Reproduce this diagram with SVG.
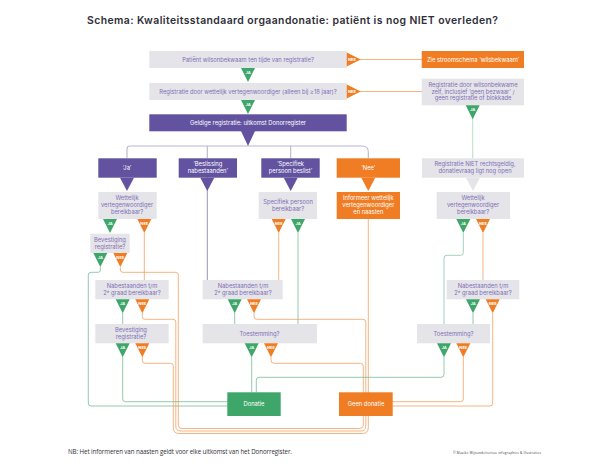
<svg xmlns="http://www.w3.org/2000/svg" width="612" height="474" viewBox="0 0 612 474">
<defs>
<polygon id="t-ja" points="-7,0 7,0 0,14" fill="#3fa66a"/>
<polygon id="t-nee" points="-7,0 7,0 0,14" fill="#f07d23"/>
</defs>
<style>
text{font-family:"Inter","Noto Sans","DejaVu Sans",sans-serif}
.g{fill:#e5e4e9}.p{fill:#62529f}.o{fill:#f07d23}.gr{fill:#3fa66a}
.tp{fill:#7f6fb5;font-size:5.8px;text-anchor:middle}
.tw{fill:#fff;font-size:5.8px;text-anchor:middle}
.lb{fill:#fff;font-size:4px;font-weight:700;text-anchor:middle}
.c{fill:none;stroke-width:.8}
.co{stroke:#f3a163}.cg{stroke:#79bb97}.cp{stroke:#807a9e}
</style>
<rect width="612" height="474" fill="#fff"/>
<text x="87" y="24" font-size="10.4" font-weight="600" fill="#2e2e38" textLength="411">Schema: Kwaliteitsstandaard orgaandonatie: patiënt is nog NIET overleden?</text>
<g id="connectors">
<path class="c co" d="M346 59.5H422M346 91.5H422"/>
<path class="c" style="stroke:#b9b6ce;stroke-width:1.1" d="M127 158V149Q127 146 130 146H362Q368.3 146 368.3 152V158M207.3 146V158M290.7 146V158"/>
<path class="c" style="stroke:#a5d6ba" d="M472.7 105V158"/>
<path class="c cp" d="M207.3 177V280"/>
<path class="c co" d="M144.3 233V280M278.7 233V280M483 233V280"/>
<path class="c cg" d="M100.3 267V270Q100.3 272.3 98 272.3H91Q88.3 272.3 88.3 275V403Q88.3 406 91 406H228"/>
<path class="c co" d="M120.3 267V270Q120.3 272.3 123 272.3H175.5Q178.3 272.3 178.3 275V425Q178.3 428.5 182 428.5H359.5Q363.3 428.5 363.3 425V366Q363.3 363.3 360.5 363.3H274Q271 363.3 271 360V357"/>
<path class="c co" d="M142.3 313V316.5Q142.3 319.3 145 319.3H173Q175.8 319.3 175.8 322V426Q175.8 431 180.5 431H361Q365.8 431 365.8 426V322Q365.8 319.3 363 319.3H257Q254 319.3 254 316.5V313"/>
<path class="c co" d="M142.3 357V360.5Q142.3 363.3 145 363.3H170.5Q173.3 363.3 173.3 366V427.5Q173.3 433.5 179 433.5H362.5Q368.3 433.5 368.3 427.5V219"/>
<path class="c cg" d="M122.7 313V324M234.7 313V324M473 313V324"/>
<path class="c cg" d="M122.7 357V399Q122.7 401.7 125.5 401.7H228"/>
<path class="c cg" d="M298 233V324M251.7 357V392.3"/>
<path class="c cg" d="M256.3 392.3V380Q256.3 377.3 259 377.3H441Q444 377.3 444 374.5V357"/>
<path class="c" style="stroke:#8cc7a6" d="M463.3 233V252.5Q463.3 255.3 460.5 255.3H447Q444 255.3 444 258V324"/>
<path class="c co" d="M463.3 357V399Q463.3 401.7 460.5 401.7H392"/>
<path class="c co" d="M492.7 313V403.3Q492.7 406 490 406H392"/>
</g>
<g id="n1"><rect class="g" x="149.3" y="51" width="197.4" height="17"/><text class="tp" x="248" y="61.5">Patiënt wilsonbekwaam ten tijde van registratie?</text>
<use href="#t-nee" transform="translate(346.7 59.5) rotate(-90)"/><text class="lb" x="352" y="61">NEE</text>
<use href="#t-ja" x="248" y="68"/><text class="lb" x="248" y="73.5">JA</text></g>
<g id="n2"><rect class="g" x="149.3" y="83" width="197.4" height="17"/><text class="tp" x="248" y="93.5">Registratie door wettelijk vertegenwoordiger (alleen bij ≥18 jaar)?</text>
<use href="#t-nee" transform="translate(346.7 91.5) rotate(-90)"/><text class="lb" x="352" y="93">NEE</text>
<use href="#t-ja" x="248" y="100"/><text class="lb" x="248" y="105.5">JA</text></g>
<g id="n3"><rect class="p" x="149.3" y="114.3" width="197.4" height="17"/><polygon class="p" points="241,131 255,131 248,146"/><text class="tw" x="248" y="124.8">Geldige registratie: uitkomst Donorregister</text></g>
<g id="n4"><rect class="o" x="421.7" y="51" width="102.3" height="17"/><text class="tw" x="473" y="61.5">Zie stroomschema ‘wilsbekwaam’</text></g>
<g id="n5"><rect class="g" x="421.7" y="78.7" width="102.3" height="26.6"/><text class="tp" x="473" y="86.5">Registratie door wilsonbekwame</text><text class="tp" x="473" y="93.5">zelf, inclusief ‘geen bezwaar’ /</text><text class="tp" x="473" y="100.3">geen registratie of blokkade</text>
<use href="#t-ja" x="472.7" y="105.3"/><text class="lb" x="472.7" y="110.8">JA</text></g>
<g id="n6"><rect class="p" x="98.3" y="158.3" width="58.4" height="19.4"/><polygon class="p" points="120,177.7 134,177.7 127,191"/><text class="tw" x="127" y="169.8">‘Ja’</text></g>
<g id="n7"><rect class="p" x="178.7" y="158.3" width="58.3" height="19.4"/><polygon class="p" points="200.3,177.7 214.3,177.7 207.3,191"/><text class="tw" x="207.8" y="166.3">‘Beslissing</text><text class="tw" x="207.8" y="173.3">nabestaanden’</text></g>
<g id="n8"><rect class="p" x="261.3" y="158.3" width="58.4" height="19.4"/><polygon class="p" points="283.7,177.7 297.7,177.7 290.7,191"/><text class="tw" x="290.5" y="166.3">‘Specifiek</text><text class="tw" x="290.5" y="173.3">persoon beslist’</text></g>
<g id="n9"><rect class="o" x="336.7" y="158.3" width="63.3" height="19.4"/><polygon class="o" points="361.3,177.7 375.3,177.7 368.3,191"/><text class="tw" x="368.3" y="169.8">‘Nee’</text></g>
<g id="n10"><rect class="g" x="422" y="158.3" width="102" height="19.4"/><polygon class="g" points="466,177.7 480,177.7 473,191"/><text class="tp" x="475" y="166.3">Registratie NIET rechtsgeldig,</text><text class="tp" x="475" y="173.3">donatievraag ligt nog open</text></g>
<g id="n11"><rect class="g" x="98.3" y="192" width="58.4" height="27"/><text class="tp" x="127" y="200">Wettelijk</text><text class="tp" x="127" y="207">vertegenwoordiger</text><text class="tp" x="127" y="214">bereikbaar?</text>
<use href="#t-ja" x="110" y="219"/><text class="lb" x="110" y="224.5">JA</text><use href="#t-nee" x="144.3" y="219"/><text class="lb" x="144.3" y="224.5">NEE</text></g>
<g id="n12"><rect class="g" x="258.7" y="192" width="58.3" height="27"/><text class="tp" x="288" y="203.5">Specifiek persoon</text><text class="tp" x="288" y="210.5">bereikbaar?</text>
<use href="#t-nee" x="278.7" y="219"/><text class="lb" x="278.7" y="224.5">NEE</text><use href="#t-ja" x="298" y="219"/><text class="lb" x="298" y="224.5">JA</text></g>
<g id="n13"><rect class="o" x="336.7" y="192" width="63.3" height="27"/><text class="tw" x="368.3" y="200">Informeer wettelijk</text><text class="tw" x="368.3" y="207">vertegenwoordiger</text><text class="tw" x="368.3" y="214">en naasten</text></g>
<g id="n14"><rect class="g" x="436.7" y="192" width="73.3" height="27"/><text class="tp" x="473" y="200">Wettelijk</text><text class="tp" x="473" y="207">vertegenwoordiger</text><text class="tp" x="473" y="214">bereikbaar?</text>
<use href="#t-ja" x="463.3" y="219"/><text class="lb" x="463.3" y="224.5">JA</text><use href="#t-nee" x="483" y="219"/><text class="lb" x="483" y="224.5">NEE</text></g>
<g id="n15"><rect class="g" x="90.3" y="233.7" width="39.4" height="19.3"/><text class="tp" x="110" y="241.7">Bevestiging</text><text class="tp" x="110" y="248.7">registratie?</text>
<use href="#t-ja" x="100.3" y="253"/><text class="lb" x="100.3" y="258.5">JA</text><use href="#t-nee" x="120.3" y="253"/><text class="lb" x="120.3" y="258.5">NEE</text></g>
<g id="n16"><rect class="g" x="95.3" y="280" width="73.4" height="19.3"/><text class="tp" x="132" y="288">Nabestaanden t/m</text><text class="tp" x="132" y="295">2ᵉ graad bereikbaar?</text>
<use href="#t-ja" x="122.7" y="299.3"/><text class="lb" x="122.7" y="304.8">JA</text><use href="#t-nee" x="142.3" y="299.3"/><text class="lb" x="142.3" y="304.8">NEE</text></g>
<g id="n17"><rect class="g" x="202.7" y="280" width="80" height="19.3"/><text class="tp" x="243" y="288">Nabestaanden t/m</text><text class="tp" x="243" y="295">2ᵉ graad bereikbaar?</text>
<use href="#t-ja" x="234.7" y="299.3"/><text class="lb" x="234.7" y="304.8">JA</text><use href="#t-nee" x="254" y="299.3"/><text class="lb" x="254" y="304.8">NEE</text></g>
<g id="n18"><rect class="g" x="446.7" y="280" width="72.6" height="19.3"/><text class="tp" x="483" y="288">Nabestaanden t/m</text><text class="tp" x="483" y="295">2ᵉ graad bereikbaar?</text>
<use href="#t-ja" x="473" y="299.3"/><text class="lb" x="473" y="304.8">JA</text><use href="#t-nee" x="492.7" y="299.3"/><text class="lb" x="492.7" y="304.8">NEE</text></g>
<g id="n19"><rect class="g" x="95.3" y="324" width="73.4" height="19.3"/><text class="tp" x="131" y="332">Bevestiging</text><text class="tp" x="131" y="339">registratie?</text>
<use href="#t-ja" x="122.7" y="343.3"/><text class="lb" x="122.7" y="348.8">JA</text><use href="#t-nee" x="142.3" y="343.3"/><text class="lb" x="142.3" y="348.8">NEE</text></g>
<g id="n20"><rect class="g" x="202.7" y="324" width="114.3" height="19.3"/><text class="tp" x="259.5" y="335.5">Toestemming?</text>
<use href="#t-ja" x="251.7" y="343.3"/><text class="lb" x="251.7" y="348.8">JA</text><use href="#t-nee" x="271" y="343.3"/><text class="lb" x="271" y="348.8">NEE</text></g>
<g id="n21"><rect class="g" x="417" y="324" width="73" height="19.3"/><text class="tp" x="453.5" y="335.5">Toestemming?</text>
<use href="#t-ja" x="444" y="343.3"/><text class="lb" x="444" y="348.8">JA</text><use href="#t-nee" x="463.3" y="343.3"/><text class="lb" x="463.3" y="348.8">NEE</text></g>
<g id="n22"><rect class="gr" x="227.3" y="392.3" width="53.4" height="23.7"/><text class="tw" x="254" y="406">Donatie</text></g>
<g id="n23"><rect class="o" x="339" y="392.3" width="53.7" height="23.7"/><text class="tw" x="366" y="406">Geen donatie</text></g>
<text x="68" y="454" font-size="6.2" fill="#30303a" style="font-family:'Open Sans',sans-serif" textLength="224">NB: Het informeren van naasten geldt voor elke uitkomst van het Donorregister.</text>
<text x="453" y="453.5" font-size="3.1" fill="#30303a" style="font-family:'Open Sans',sans-serif" textLength="88">© Maaike Wijnands/vertoo infographics &amp; illustraties</text>
</svg>
